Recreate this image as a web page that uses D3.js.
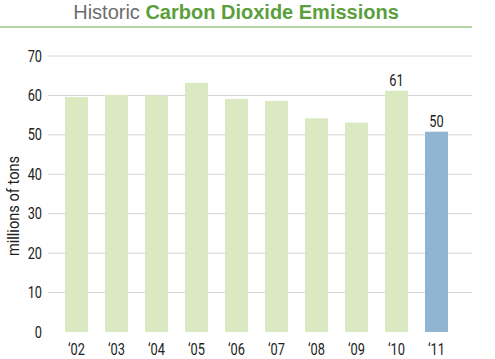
<!DOCTYPE html>
<html><head><meta charset="utf-8">
<script src="https://cdn.jsdelivr.net/npm/d3@7"></script>
<style>body{margin:0;background:#fff}svg{display:block}</style>
</head><body>
<script>
const years = ["'02","'03","'04","'05","'06","'07","'08","'09","'10","'11"];
const values = [59.6, 60.1, 60.0, 63.2, 59.1, 58.6, 54.2, 53.1, 61.2, 50.8];
const labels = {"'10": "61", "'11": "50"};
const yTicks = [0,10,20,30,40,50,60,70];
const barColors = ["#dae9c1","#dae9c1","#dae9c1","#dae9c1","#dae9c1","#dae9c1","#dae9c1","#dae9c1","#dae9c1","#8fb5d3"];

const W = 495, H = 359;
const font = "Roboto, 'Liberation Sans', sans-serif";
const svg = d3.select("body").append("svg").attr("width", W).attr("height", H);

const x = d3.scaleBand().domain(years).range([46.5, 466.5]).paddingInner(0.425).paddingOuter(0.4625);
const y = d3.scaleLinear().domain([0, 70]).range([332, 56]);

function ctext(g, px, py, anchor, str, rot, size, sx) {
  return g.append("g").attr("transform", `translate(${px},${py})` + (rot ? ` rotate(${rot})` : "") + ` scale(${sx || 0.8},1)`)
    .append("text").attr("text-anchor", anchor)
    .style("font-family", font).style("font-size", (size || 16) + "px").attr("fill", "#222").text(str);
}

// title
const t = svg.append("text").attr("x", 236).attr("y", 19).attr("text-anchor", "middle")
  .style("font-family", "'Liberation Sans', Arial, sans-serif").style("font-size", "20px");
t.append("tspan").attr("fill", "#6d6d6d").text("Historic ");
t.append("tspan").attr("fill", "#5a9f3c").attr("font-weight", "bold").text("Carbon Dioxide Emissions");
svg.append("line").attr("x1", 0).attr("x2", 472).attr("y1", 27).attr("y2", 27)
  .attr("stroke", "#6aa84f").attr("stroke-width", 1.2);

// grid
svg.append("g").selectAll("line").data(yTicks.filter(d => d > 0)).join("line")
  .attr("x1", 48).attr("x2", 472).attr("y1", d => y(d)).attr("y2", d => y(d))
  .attr("stroke", "#d4d4d4").attr("stroke-width", 1);

// y labels
const gy = svg.append("g");
yTicks.forEach(d => ctext(gy, 42, y(d) + 5.5, "end", d));

ctext(svg, 19, 206, "middle", "millions of tons", -90, 17, 0.86);

// bars
svg.append("g").selectAll("rect").data(years).join("rect")
  .attr("x", d => x(d)).attr("width", x.bandwidth())
  .attr("y", (d, i) => y(values[i])).attr("height", (d, i) => y(0) - y(values[i]))
  .attr("fill", (d, i) => barColors[i]);

// value labels
const gv = svg.append("g");
years.forEach((d, i) => { if (labels[d]) ctext(gv, x(d) + x.bandwidth() / 2, y(values[i]) - 5, "middle", labels[d]); });

// x labels
const gx = svg.append("g");
years.forEach(d => ctext(gx, x(d) + x.bandwidth() / 2, 355, "middle", d.replace("'", "\u2018")));
</script>
</body></html>
